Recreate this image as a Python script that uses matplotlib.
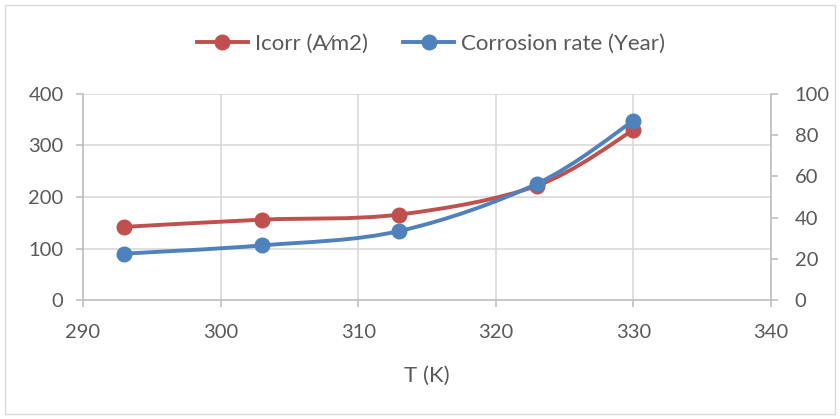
import matplotlib
matplotlib.use("Agg")
import matplotlib.pyplot as plt
from matplotlib.path import Path
from matplotlib.patches import PathPatch
from matplotlib.lines import Line2D
import matplotlib.patches as mpatches

T = [293, 303, 313, 323, 330]
icorr = [142, 156, 166, 222, 330]
corr_rate = [22.5, 26.5, 33.5, 56.5, 87]

RED = "#C0504D"
BLUE = "#4F81BD"
TXT = "#595959"
AXC = "#BFBFBF"
GRID = "#D9D9D9"

plt.rcParams['font.family'] = ['Lato', 'DejaVu Sans']

fig = plt.figure(figsize=(8.4, 4.19), dpi=100)
fig.patches.append(mpatches.Rectangle((5/840, 5/419), 830/840, 409/419, transform=fig.transFigure,
                                      fill=False, edgecolor="#D9D9D9", lw=1))
ax = fig.add_axes([83/840, 1 - 300/419, (771-83)/840, (300-94)/419])
ax2 = ax.twinx()


def smooth_path(xs, ys, t=1/6):
    pts = list(zip(xs, ys))
    verts = [pts[0]]
    codes = [Path.MOVETO]
    n = len(pts)
    for i in range(n - 1):
        p0 = pts[i - 1] if i > 0 else pts[i]
        p1 = pts[i]
        p2 = pts[i + 1]
        p3 = pts[i + 2] if i + 2 < n else pts[i + 1]
        c1 = (p1[0] + (p2[0] - p0[0]) * t, p1[1] + (p2[1] - p0[1]) * t)
        c2 = (p2[0] - (p3[0] - p1[0]) * t, p2[1] - (p3[1] - p1[1]) * t)
        verts += [c1, c2, p2]
        codes += [Path.CURVE4] * 3
    return Path(verts, codes)


LW = 2.8
MS = 10.5
ax.add_patch(PathPatch(smooth_path(T, icorr), fill=False, edgecolor=RED, lw=LW, zorder=3))
ax.plot(T, icorr, 'o', color=RED, ms=MS, zorder=4)
ax2.add_patch(PathPatch(smooth_path(T, corr_rate), fill=False, edgecolor=BLUE, lw=LW, zorder=3))
ax2.plot(T, corr_rate, 'o', color=BLUE, ms=MS, zorder=4)

ax.set_xlim(290, 340)
ax.set_ylim(0, 400)
ax2.set_ylim(0, 100)
ax.set_xticks(range(290, 341, 10))
ax.set_yticks(range(0, 401, 100))
ax2.set_yticks(range(0, 101, 20))

ax.grid(True, color=GRID, lw=1.2)
ax.set_axisbelow(True)
for a in (ax, ax2):
    for s in a.spines.values():
        s.set_visible(False)
ax.spines['left'].set_visible(True)
ax.spines['bottom'].set_visible(True)
ax2.spines['right'].set_visible(True)
for s in (ax.spines['left'], ax.spines['bottom'], ax2.spines['right']):
    s.set_color(AXC)
    s.set_linewidth(1.2)

FS = 14.5
ax.tick_params(axis='both', colors=AXC, labelcolor=TXT, labelsize=FS, length=5, width=1.2)
ax.tick_params(axis='y', pad=9)
ax.tick_params(axis='x', pad=12)
ax2.tick_params(axis='y', colors=AXC, labelcolor=TXT, labelsize=FS, length=5, width=1.2, pad=12)
ax.set_xlabel("T (K)", color=TXT, fontsize=16, labelpad=18)

handles = [Line2D([], [], color=RED, lw=LW, marker='o', ms=MS),
           Line2D([], [], color=BLUE, lw=LW, marker='o', ms=MS)]
fig.legend(handles, ["Icorr (A\u2044m2)", "Corrosion rate (Year)"], loc='center',
           bbox_to_anchor=(431/840, 1 - 44/419), ncol=2, frameon=False, fontsize=16,
           labelcolor=TXT, handlelength=2.3, columnspacing=1.6, handletextpad=0.3)

fig.savefig("out.png", dpi=100)
